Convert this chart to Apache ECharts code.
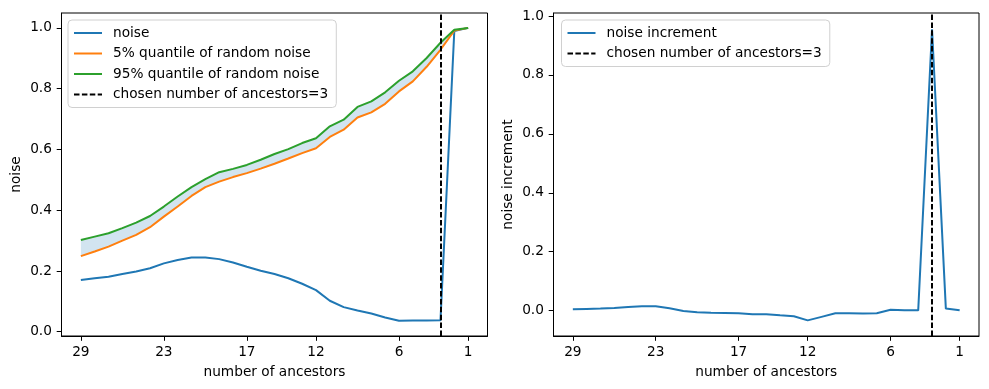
<!DOCTYPE html>
<html lang="en">
<head>
<meta charset="UTF-8">
<title>noise vs number of ancestors</title>
<script src="https://cdn.jsdelivr.net/npm/echarts@6/dist/echarts.min.js"></script>
<style>
  html, body { margin: 0; padding: 0; background: #fff; }
  #main { width: 989px; height: 389px; }
</style>
</head>
<body>
<div id="main"></div>
<script>
// values
var ancestors = [29, 28, 27, 26, 25, 24, 23, 22, 21, 20, 19, 18, 17, 16, 15, 14, 13, 12, 11, 10, 9, 8, 7, 6, 5, 4, 3, 2, 1];
var noise = [0.170, 0.176, 0.181, 0.190, 0.198, 0.209, 0.225, 0.236, 0.244, 0.244, 0.239, 0.228, 0.214, 0.201, 0.190,
             0.176, 0.158, 0.137, 0.102, 0.081, 0.070, 0.060, 0.047, 0.036, 0.037, 0.037, 0.038, 0.990, 1.000];
var q05 = [0.249, 0.264, 0.280, 0.300, 0.319, 0.344, 0.379, 0.412, 0.447, 0.476, 0.494, 0.509, 0.522, 0.537, 0.553,
           0.570, 0.588, 0.604, 0.641, 0.665, 0.705, 0.722, 0.750, 0.791, 0.824, 0.872, 0.928, 0.991, 1.000];
var q95 = [0.302, 0.313, 0.324, 0.341, 0.359, 0.381, 0.412, 0.445, 0.476, 0.502, 0.525, 0.536, 0.549, 0.566, 0.585,
           0.601, 0.621, 0.637, 0.676, 0.698, 0.740, 0.758, 0.788, 0.826, 0.857, 0.901, 0.951, 0.994, 1.000];
var increment = [0.005, 0.006, 0.007, 0.009, 0.012, 0.015, 0.015, 0.008, -0.001, -0.005, -0.007, -0.008, -0.009, -0.012, -0.012,
                 -0.016, -0.019, -0.033, -0.021, -0.009, -0.009, -0.010, -0.009, 0.003, 0.001, 0.001, 0.955, 0.007, 0.001];
var chosen = 3;
var xTicks = [29, 23, 17, 12, 6, 1];
var yTicks = [0, 0.2, 0.4, 0.6, 0.8, 1.0];

var FONT = 'DejaVu Sans';
var FS = 13.7;
var BLUE = '#1f77b4', ORANGE = '#ff7f0e', GREEN = '#2ca02c';
var DASH = [5.5, 2.4];

function pairs(ys) {
  return ancestors.map(function (n, i) { return [n, ys[i]]; });
}

// shaded band between the two quantile curves
function renderBand(params, api) {
  if (params.dataIndex !== 0) return;
  var pts = [];
  for (var i = 0; i < ancestors.length; i++) pts.push(api.coord([ancestors[i], q95[i]]));
  for (var j = ancestors.length - 1; j >= 0; j--) pts.push(api.coord([ancestors[j], q05[j]]));
  return {
    type: 'polygon',
    shape: { points: pts },
    style: { fill: 'rgba(31,119,180,0.2)', stroke: null }
  };
}

function xAxis(gi) {
  return {
    type: 'value', gridIndex: gi, inverse: true, min: -0.4, max: 30.4,
    name: 'number of ancestors', nameLocation: 'middle', nameGap: 29,
    nameTextStyle: { color: '#000', fontFamily: FONT, fontSize: FS },
    axisLine: { onZero: false, lineStyle: { color: '#000', width: 1 } },
    axisTick: { customValues: xTicks, length: 4.8, lineStyle: { color: '#000', width: 1 } },
    axisLabel: { customValues: xTicks, margin: 9.6, color: '#000', fontFamily: FONT, fontSize: FS },
    splitLine: { show: false }
  };
}
function yAxis(gi, name, min, max, gap) {
  return {
    type: 'value', gridIndex: gi, min: min, max: max,
    name: name, nameLocation: 'middle', nameGap: gap, nameRotate: 90,
    nameTextStyle: { color: '#000', fontFamily: FONT, fontSize: FS },
    axisLine: { show: true, onZero: false, lineStyle: { color: '#000', width: 1 } },
    axisTick: { show: true, customValues: yTicks, length: 4.8, lineStyle: { color: '#000', width: 1 } },
    axisLabel: {
      customValues: yTicks, margin: 9.6, color: '#000', fontFamily: FONT, fontSize: FS,
      formatter: function (v) { return v.toFixed(1); }
    },
    splitLine: { show: false }
  };
}
function legend(left, top, names) {
  return {
    orient: 'vertical', left: left, top: top, data: names,
    itemWidth: 28, itemHeight: 14, itemGap: 6.5,
    padding: [6, 8, 6, 5],
    borderColor: '#d0d0d0', borderWidth: 1, borderRadius: 4,
    backgroundColor: 'rgba(255,255,255,0.8)',
    itemStyle: { opacity: 0 },
    textStyle: { color: '#000', fontFamily: FONT, fontSize: FS, lineHeight: 14, padding: [0, 0, 0, 6] },
    selectedMode: false
  };
}
function vline(gi) {
  return {
    name: 'chosen number of ancestors=' + chosen, type: 'line',
    xAxisIndex: gi, yAxisIndex: gi, data: [], symbol: 'none',
    itemStyle: { color: '#000' },
    lineStyle: { color: '#000', width: 2, type: DASH },
    markLine: {
      silent: true, symbol: ['none', 'none'], label: { show: false },
      lineStyle: { color: '#000', width: 2, type: DASH },
      data: [{ xAxis: chosen }]
    },
    z: 5
  };
}
function curve(name, ys, color, gi) {
  return {
    name: name, type: 'line', data: pairs(ys), symbol: 'none',
    itemStyle: { color: color }, lineStyle: { color: color, width: 2 },
    xAxisIndex: gi, yAxisIndex: gi, z: 3
  };
}

var chart = echarts.init(document.getElementById('main'));
var option = {
  animation: false,
  grid: [
    { left: 61.5, right: 501.5, top: 13, bottom: 53, show: true, borderColor: '#000', borderWidth: 1 },
    { left: 553.5, right: 10, top: 13, bottom: 53, show: true, borderColor: '#000', borderWidth: 1 }
  ],
  xAxis: [xAxis(0), xAxis(1)],
  yAxis: [
    yAxis(0, 'noise', -0.014, 1.049, 38),
    yAxis(1, 'noise increment', -0.086, 1.010, 38)
  ],
  legend: [
    legend(68, 20, ['noise', '5% quantile of random noise', '95% quantile of random noise', 'chosen number of ancestors=3']),
    legend(561.5, 20, ['noise increment', 'chosen number of ancestors=3'])
  ],
  series: [
    { name: 'band', type: 'custom', coordinateSystem: 'cartesian2d', xAxisIndex: 0, yAxisIndex: 0,
      renderItem: renderBand, data: [[ancestors[0], q05[0]]], silent: true, z: 1 },
    curve('noise', noise, BLUE, 0),
    curve('5% quantile of random noise', q05, ORANGE, 0),
    curve('95% quantile of random noise', q95, GREEN, 0),
    vline(0),
    curve('noise increment', increment, BLUE, 1),
    vline(1)
  ]
};
chart.setOption(option);
</script>
</body>
</html>
